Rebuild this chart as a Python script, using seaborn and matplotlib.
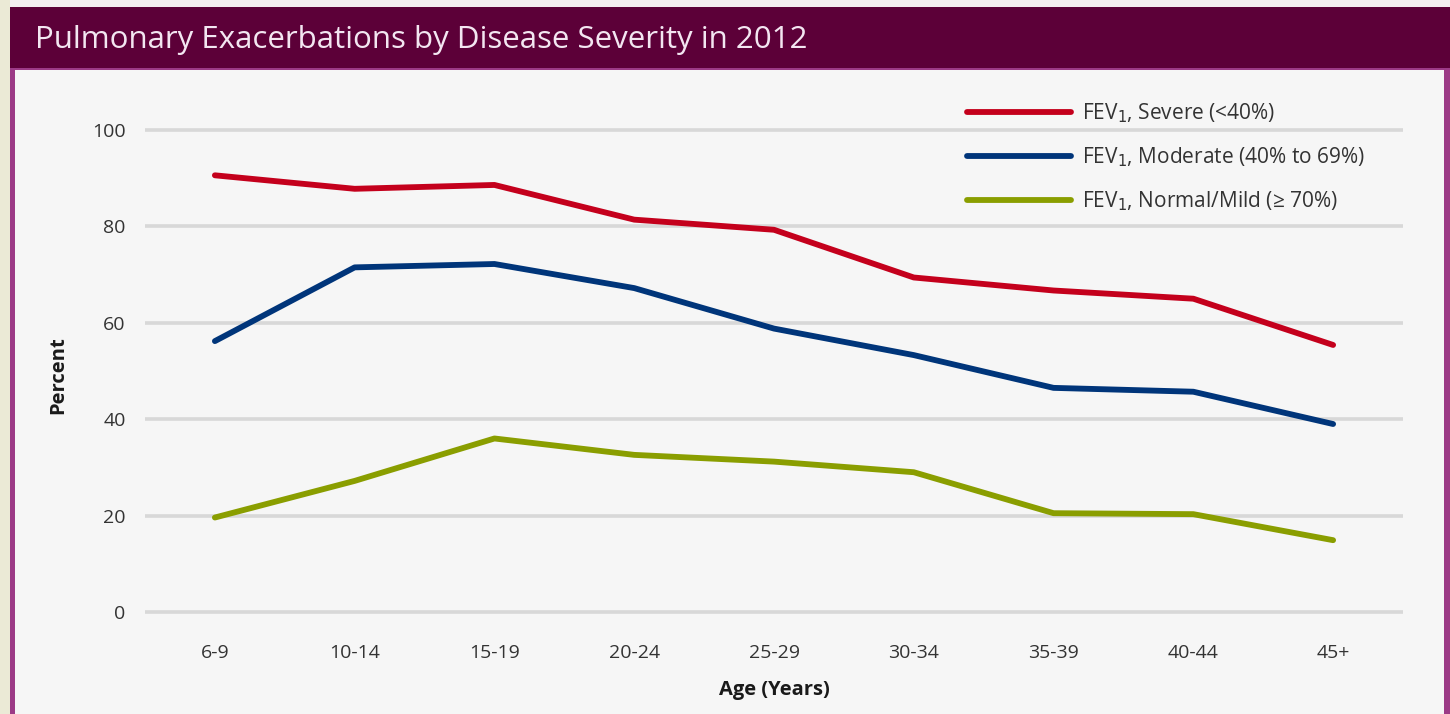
import matplotlib
matplotlib.use("Agg")
import matplotlib.pyplot as plt
from matplotlib.patches import Rectangle
import seaborn as sns
import pandas as pd

ages = ["6-9", "10-14", "15-19", "20-24", "25-29", "30-34", "35-39", "40-44", "45+"]
severe = [90.6, 87.8, 88.6, 81.4, 79.3, 69.4, 66.7, 65.0, 55.4]
moderate = [56.2, 71.5, 72.2, 67.2, 58.8, 53.3, 46.5, 45.7, 39.0]
normal = [19.6, 27.2, 36.0, 32.6, 31.2, 29.0, 20.5, 20.3, 14.9]
series_labels = ["FEV$_1$, Severe (<40%)",
                 "FEV$_1$, Moderate (40% to 69%)",
                 "FEV$_1$, Normal/Mild (\u2265 70%)"]
y_ticks = [0, 20, 40, 60, 80, 100]
title = "Pulmonary Exacerbations by Disease Severity in 2012"

colors = ["#c4001c", "#00357a", "#8a9e00"]

df = pd.DataFrame({
    "Age": ages * 3,
    "Percent": severe + moderate + normal,
    "Series": [series_labels[0]] * 9 + [series_labels[1]] * 9 + [series_labels[2]] * 9,
})

sns.set_theme(style="white")
plt.rcParams["font.family"] = ["Open Sans", "DejaVu Sans"]

W, H = 1450, 714
fig = plt.figure(figsize=(W / 100, H / 100), dpi=100, facecolor="#ebead6")

def frect(x0, y0, x1, y1, color, z=0):
    # pixel coords from top-left
    fig.patches.append(Rectangle((x0 / W, 1 - y1 / H), (x1 - x0) / W, (y1 - y0) / H,
                                 transform=fig.transFigure, facecolor=color,
                                 edgecolor="none", zorder=z))

frect(10, 0, W, 7, "#f4eef0", -3)
frect(10, 7, W, H, "#9c3a86", -3)
frect(15, 70, 1444, H, "#f6f6f6", -2)
frect(10, 7, W, 68, "#5c0038", -1)
fig.text(35 / W, 1 - 40 / H, title, color="#f3e6f1", fontsize=22.5,
         va="center", ha="left", zorder=5)

ymin, ymax = -5, 104
ppu = (612 - 130) / 100.0
top_px = 130 - (ymax - 100) * ppu
bot_px = 612 - ymin * ppu
ax = fig.add_axes([145 / W, 1 - bot_px / H, (1403 - 145) / W, (bot_px - top_px) / H])
ax.set_facecolor("none")
ax.set_zorder(3)

sns.lineplot(data=df, x="Age", y="Percent", hue="Series", palette=colors,
             sort=False, linewidth=4.2, ax=ax, legend=True, zorder=3)

ax.set_xlim(-0.5, 8.5)
ax.set_ylim(ymin, ymax)
ax.set_yticks(y_ticks)
ax.yaxis.grid(True, color="#d8d8d8", linewidth=2.6)
ax.xaxis.grid(False)
ax.set_axisbelow(True)
for s in ax.spines.values():
    s.set_visible(False)
ax.tick_params(axis="both", length=0, labelsize=14, labelcolor="#333333")
ax.tick_params(axis="y", pad=14)
ax.tick_params(axis="x", pad=6)

ax.set_xlabel("Age (Years)", fontsize=14.5, fontweight="bold", color="#1a1a1a")
ax.set_ylabel("Percent", fontsize=14.5, fontweight="bold", color="#1a1a1a")
ax.xaxis.set_label_coords(0.5, (bot_px - 690) / (bot_px - top_px))
ax.xaxis.label.set_va("center")
ax.yaxis.set_label_coords((58 - 145) / (1403 - 145), 0.5 + (612 + 130 - 2 * 373) / 2 / (bot_px - top_px))
ax.yaxis.label.set_va("center")

handles, labels = ax.get_legend_handles_labels()
leg = ax.legend(handles, labels, loc="upper left",
                bbox_to_anchor=(967 / W, 1 - 101 / H), bbox_transform=fig.transFigure,
                frameon=False, fontsize=15, handlelength=5.0, handletextpad=0.5,
                labelspacing=0.98, borderpad=0, borderaxespad=0)
for t in leg.get_texts():
    t.set_color("#333333")
for l in leg.get_lines():
    l.set_linewidth(4.2)

fig.savefig("out.png", dpi=100, facecolor=fig.get_facecolor())
